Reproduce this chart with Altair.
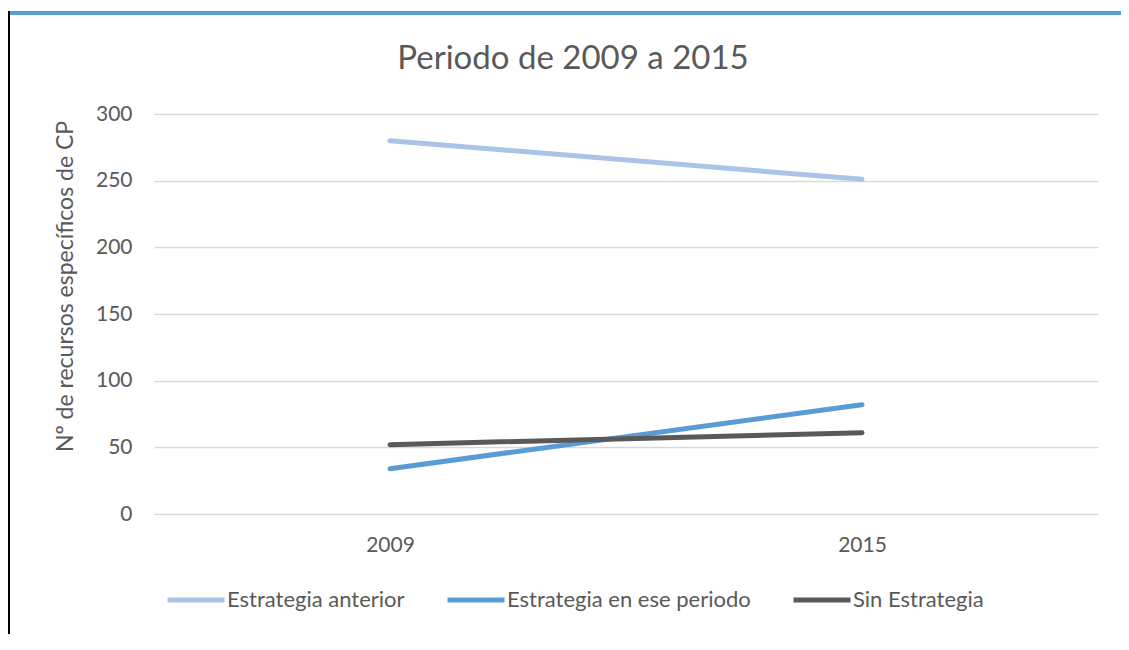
import altair as alt
import pandas as pd

years = ["2009", "2015"]
series = ["Estrategia anterior", "Estrategia en ese periodo", "Sin Estrategia"]
anterior = [280, 251]
en_periodo = [34, 82]
sin_estrategia = [52, 61]
colors = ["#A9C4E7", "#5B9BD5", "#595959"]
y_ticks = [0, 50, 100, 150, 200, 250, 300]
chart_title = "Periodo de 2009 a 2015"

rows = []
for s, vals in zip(series, [anterior, en_periodo, sin_estrategia]):
    for yr, v in zip(years, vals):
        rows.append({"Año": yr, "Serie": s, "Valor": v})
df = pd.DataFrame(rows)

FONT = "Lato"
TXT = "#595959"
W, H = 944, 400
PL, PT, PR, PB = 146, 106, 23, 120

lines = alt.Chart(df).mark_line(strokeWidth=5, strokeCap="round").encode(
    x=alt.X("Año:N", sort=years,
            axis=alt.Axis(title=None, labelAngle=0, domain=False, ticks=False,
                          grid=False, labelPadding=20)),
    y=alt.Y("Valor:Q", scale=alt.Scale(domain=[0, 300], nice=False),
            axis=alt.Axis(values=y_ticks, title="Nº de recursos específicos de CP",
                          domain=False, ticks=False, labelPadding=22,
                          titleX=-82, titleY=172, titleBaseline="alphabetic",
                          titleFontSize=23, titleFontWeight="normal", titleColor=TXT,
                          gridColor="#D9D9D9", gridWidth=1.3)),
    color=alt.Color("Serie:N", sort=series,
                    scale=alt.Scale(domain=series, range=colors),
                    legend=alt.Legend(title=None, orient="none", legendX=11, legendY=455,
                                      direction="horizontal", symbolType="stroke",
                                      symbolSize=3249, symbolStrokeWidth=5,
                                      columnPadding=32, labelOffset=0, labelLimit=500,
                                      labelFontSize=22, labelColor=TXT, labelFont=FONT)),
)

deco = pd.DataFrame({"k": [0]})
title_mark = alt.Chart(deco).mark_text(
    text=chart_title, font=FONT, fontSize=33, color=TXT, align="center",
    baseline="alphabetic").encode(x=alt.value(573 - 154), y=alt.value(69 - 114))
top_line = alt.Chart(deco).mark_rule(color="#5B9BD5", strokeWidth=4).encode(
    x=alt.value(-PL), x2=alt.value(W + PR), y=alt.value(-101))
left_line = alt.Chart(deco).mark_rule(color="#000000", strokeWidth=2).encode(
    x=alt.value(-PL + 1), y=alt.value(-103), y2=alt.value(H + PB + 10))

chart = alt.layer(lines, title_mark, top_line, left_line).properties(
    width=W, height=H,
    padding={"left": PL, "top": PT, "right": PR, "bottom": PB},
    autosize=alt.AutoSizeParams(type="none"),
    background="white",
).configure_view(stroke=None).configure_axis(
    labelFont=FONT, titleFont=FONT, labelFontSize=21, labelColor=TXT
)

chart.save("out.html", embed_options={"renderer": "svg", "actions": False})
